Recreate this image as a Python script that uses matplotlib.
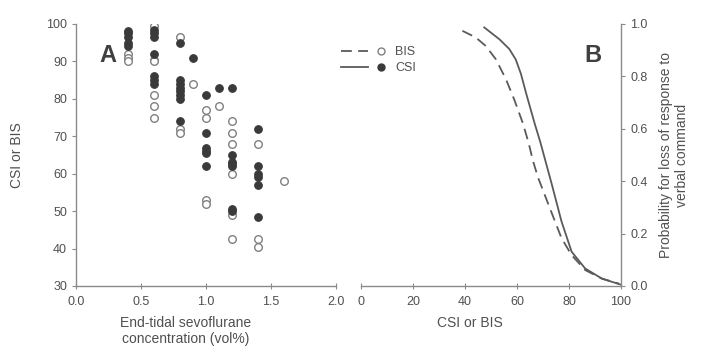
import matplotlib
matplotlib.use("Agg")
import matplotlib.pyplot as plt
from matplotlib.lines import Line2D
from matplotlib.legend_handler import HandlerTuple

plt.rcParams['font.family'] = ['Liberation Sans', 'DejaVu Sans']

# Panel A data: end-tidal sevoflurane (vol%) vs index values
bis_conc = [0.4, 0.4, 0.4,
            0.6, 0.6, 0.6, 0.6, 0.6, 0.6,
            0.8, 0.8, 0.8,
            0.9,
            1.0, 1.0, 1.0, 1.0,
            1.1,
            1.2, 1.2, 1.2, 1.2, 1.2, 1.2,
            1.4, 1.4, 1.4,
            1.6]
bis_vals = [92, 91, 90,
            99.5, 90.5, 90, 81, 78, 75,
            96.5, 72, 71,
            84,
            77, 75, 53, 52,
            78,
            74, 71, 68, 60, 49, 42.5,
            68, 42.5, 40.5,
            58]

csi_conc = [0.4, 0.4, 0.4, 0.4, 0.4,
            0.6, 0.6, 0.6, 0.6, 0.6, 0.6, 0.6,
            0.8, 0.8, 0.8, 0.8, 0.8, 0.8, 0.8, 0.8,
            0.9,
            1.0, 1.0, 1.0, 1.0, 1.0, 1.0,
            1.1,
            1.2, 1.2, 1.2, 1.2, 1.2, 1.2, 1.2,
            1.4, 1.4, 1.4, 1.4, 1.4, 1.4]
csi_vals = [98, 97.5, 96.5, 95, 94,
            98.5, 97.5, 96.5, 92, 86, 85, 84,
            95, 85, 84, 83, 82, 81, 80, 74,
            91,
            81, 71, 67, 66, 65.5, 62,
            83,
            83, 65, 63, 62.5, 62, 50.5, 50,
            72, 62, 60, 59, 57, 48.5]

# Panel B data: probability of loss of response vs index value
bis_curve_x = [39.0, 44.1, 48.0, 51.9, 55.8, 59.0, 62.3, 64.5, 66.1, 68.1, 72.6,
               77.1, 81.0, 86.2, 92.7, 99.2]
bis_curve_p = [0.974, 0.949, 0.916, 0.865, 0.788, 0.71, 0.62, 0.545, 0.479, 0.414, 0.298,
               0.183, 0.118, 0.061, 0.028, 0.009]
csi_curve_x = [47.4, 53.2, 57.0, 59.5, 61.5, 63.5, 66.8, 69.0, 71.0, 73.2, 77.1, 81.0,
               86.2, 92.7, 100.0]
csi_curve_p = [0.987, 0.942, 0.905, 0.865, 0.81, 0.736, 0.62, 0.548, 0.475, 0.395, 0.247, 0.131,
               0.067, 0.028, 0.005]

left_xticks = [0.0, 0.5, 1.0, 1.5, 2.0]
left_yticks = [30, 40, 50, 60, 70, 80, 90, 100]
right_xticks = [0, 20, 40, 60, 80, 100]
right_yticks = [0.0, 0.2, 0.4, 0.6, 0.8, 1.0]

spine_c = '#8a8a8a'
text_c = '#505050'
fill_c = '#3a3a3a'
open_c = '#808080'
curve_c = '#5a5a5a'

fig = plt.figure(figsize=(7.02, 3.52), dpi=100)
axA = fig.add_axes([76/702, 1-286/352, 260/702, 262/352])
axB = fig.add_axes([361/702, 1-286/352, 260/702, 262/352])

# Panel A
axA.scatter(bis_conc, bis_vals, s=30, facecolors='white', edgecolors=open_c, linewidths=1.0, zorder=3)
axA.scatter(csi_conc, csi_vals, s=30, facecolors=fill_c, edgecolors=fill_c, linewidths=0.8, zorder=4)
axA.set_xlim(0, 2.0)
axA.set_ylim(30, 100)
axA.set_xticks(left_xticks)
axA.set_xticklabels([f"{v:.1f}" for v in left_xticks])
axA.set_yticks(left_yticks)
for s in ['top', 'right']:
    axA.spines[s].set_visible(False)
for s in ['left', 'bottom']:
    axA.spines[s].set_color(spine_c)
    axA.spines[s].set_linewidth(1.0)
axA.tick_params(axis='both', colors=spine_c, labelcolor=text_c, labelsize=9, length=3)
axA.tick_params(axis='x', direction='inout', length=4, pad=5)
axA.set_ylabel('CSI or BIS', color=text_c, fontsize=10, labelpad=16)
axA.set_xlabel('End-tidal sevoflurane\nconcentration (vol%)', color=text_c, fontsize=10)
axA.xaxis.set_label_coords(0.42, -0.115, transform=axA.transAxes)
axA.xaxis.label.set_va('top')
axA.text(0.09, 0.88, 'A', transform=axA.transAxes, fontsize=17, fontweight='bold', color='#404040', ha='left', va='center')

# Panel B
axB.plot(bis_curve_x, bis_curve_p, color=curve_c, linestyle=(0, (6, 3.5)), linewidth=1.3,
         solid_joinstyle='round', dash_joinstyle='round')
axB.plot(csi_curve_x, csi_curve_p, color=curve_c, linestyle='-', linewidth=1.3,
         solid_joinstyle='round')
axB.set_xlim(0, 100)
axB.set_ylim(0, 1.0)
axB.set_xticks(right_xticks)
axB.set_yticks(right_yticks)
axB.set_yticklabels([f"{v:.1f}" for v in right_yticks])
axB.yaxis.tick_right()
axB.yaxis.set_label_position('right')
for s in ['top', 'left']:
    axB.spines[s].set_visible(False)
for s in ['right', 'bottom']:
    axB.spines[s].set_color(spine_c)
    axB.spines[s].set_linewidth(1.0)
axB.tick_params(axis='both', colors=spine_c, labelcolor=text_c, labelsize=9, length=3)
axB.tick_params(axis='x', direction='inout', length=4, pad=5)
axB.set_xlabel('CSI or BIS', color=text_c, fontsize=10)
axB.xaxis.set_label_coords(0.42, -0.115, transform=axB.transAxes)
axB.xaxis.label.set_va('top')
axB.set_ylabel('Probability for loss of response to\nverbal command', color=text_c, fontsize=10, labelpad=8, rotation=90, va='top')
axB.text(0.86, 0.88, 'B', transform=axB.transAxes, fontsize=17, fontweight='bold', color='#404040', ha='left', va='center')

# Legend
m_bis = Line2D([], [], marker='o', linestyle='none', markersize=5, markerfacecolor='white', markeredgecolor=open_c)
m_csi = Line2D([], [], marker='o', linestyle='none', markersize=5, markerfacecolor=fill_c, markeredgecolor=fill_c)
h_bis = Line2D([], [], color=curve_c, linestyle=(0, (6, 3.5)), linewidth=1.3)
h_csi = Line2D([], [], color=curve_c, linestyle='-', linewidth=1.3)
fig.legend([(h_bis, m_bis), (h_csi, m_csi)], ['BIS', 'CSI'],
           handler_map={tuple: HandlerTuple(ndivide=None, pad=0.0)},
           loc='upper left', bbox_to_anchor=(335/702, 1-40/352), frameon=False,
           fontsize=9, handlelength=4.2, handletextpad=0.1, labelspacing=0.3,
           borderpad=0, labelcolor=text_c)

fig.savefig('out.png', dpi=100, facecolor='white')
